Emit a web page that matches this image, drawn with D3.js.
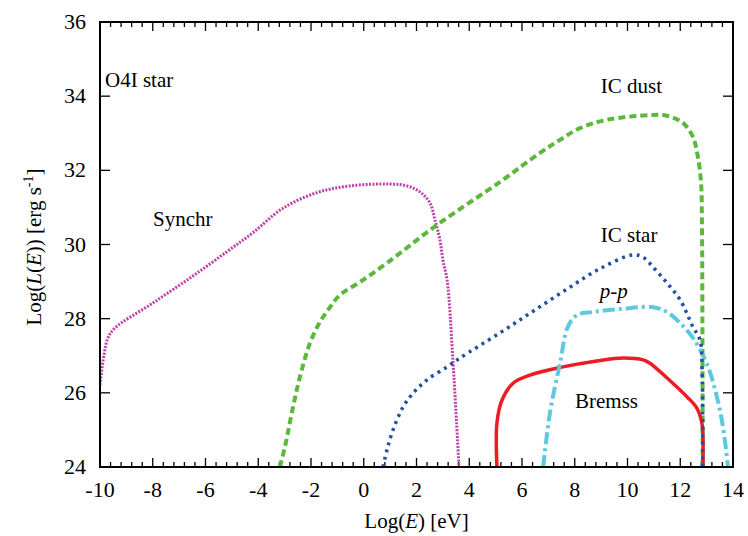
<!DOCTYPE html>
<html><head><meta charset="utf-8">
<script src="https://cdn.jsdelivr.net/npm/d3@7"></script>
<style>body{margin:0;background:#fff;} text{font-family:"Liberation Serif","Times New Roman",serif;}</style>
</head><body>
<svg id="c" width="748" height="536"></svg>
<script>
// Data: [log E (eV), log L (erg/s)]
const synchr = [[-10,26.21],[-9.85,27.02],[-9.7,27.48],[-9.43,27.75],[-8.0,28.42],[-6.5,29.14],[-5.2,29.8],[-4.2,30.32],[-3.06,30.98],[-1.77,31.4],[-0.52,31.58],[1.0,31.63],[1.64,31.58],[2.13,31.42],[2.51,31.12],[2.7,30.66],[2.89,30.12],[3.0,29.58],[3.16,29.04],[3.38,26.89],[3.61,24.0]];
const icDust = [[-3.18,24],[-2.99,24.54],[-2.68,25.62],[-2.42,26.43],[-2.04,27.34],[-1.66,27.91],[-1.28,28.31],[-0.9,28.64],[-0.14,28.99],[0.88,29.5],[2.78,30.53],[5.17,31.69],[6.68,32.47],[7.44,32.82],[8.2,33.14],[9.22,33.36],[10.85,33.49],[11.5,33.47],[12.1,33.28],[12.48,32.9],[12.67,32.36],[12.79,31.66],[12.82,30.74],[12.84,28],[12.85,24]];
const icStar = [[0.73,24],[0.88,24.46],[1.11,25.0],[1.49,25.62],[1.87,25.99],[2.4,26.35],[3.16,26.7],[3.65,26.94],[5.17,27.62],[6.42,28.2],[7.71,28.8],[8.96,29.35],[10.21,29.72],[10.59,29.66],[10.97,29.39],[11.5,28.96],[12.0,28.5],[12.48,27.78],[12.75,27.42],[12.83,26.6],[12.85,24]];
const pp = [[6.8,24],[7.06,25.46],[7.44,26.8],[7.74,27.78],[8.09,28.1],[8.69,28.18],[9.72,28.26],[10.97,28.31],[11.5,28.18],[12.0,27.88],[12.48,27.48],[13.0,26.8],[13.39,25.89],[13.62,25.08],[13.81,24.0]];
const bremss = [[5.05,24],[5.05,25.19],[5.24,25.8],[5.66,26.26],[6.3,26.48],[7.55,26.7],[8.84,26.86],[9.83,26.94],[10.59,26.89],[10.85,26.8],[11.5,26.4],[12.26,25.89],[12.63,25.59],[12.82,25.19],[12.86,24.81],[12.86,24]];
const xTicks = [-10,-8,-6,-4,-2,0,2,4,6,8,10,12,14];
const yTicks = [24,26,28,30,32,34,36];
const labels = [
  {t:"O4I star", x:-9.81, y:34.25},
  {t:"Synchr", x:-7.99, y:30.5},
  {t:"IC dust", x:8.99, y:34.09},
  {t:"IC star", x:8.99, y:30.07},
  {t:"p-p", x:8.95, y:28.56, it:true},
  {t:"Bremss", x:8.01, y:25.59}
];

const W=748,H=536, L=100,R=733,T=22,B=467;
const svg=d3.select("#c");
const x=d3.scaleLinear().domain([-10,14]).range([L,R]);
const y=d3.scaleLinear().domain([24,36]).range([B,T]);
const FONT='"Liberation Serif","Times New Roman",serif';

svg.append("clipPath").attr("id","clip").append("rect").attr("x",L).attr("y",T).attr("width",R-L).attr("height",B-T);

const g=svg.append("g");
const minor=d3.range(-10,14.001,0.4).map(v=>Math.round(v*10)/10);
minor.forEach(v=>{
  const major = xTicks.some(t=>Math.abs(t-v)<1e-6);
  const len = major?9:5;
  g.append("line").attr("x1",x(v)).attr("x2",x(v)).attr("y1",B).attr("y2",B-len).attr("stroke","#000").attr("stroke-width",1.3);
  g.append("line").attr("x1",x(v)).attr("x2",x(v)).attr("y1",T).attr("y2",T+len).attr("stroke","#000").attr("stroke-width",1.3);
});
yTicks.forEach(v=>{
  g.append("line").attr("x1",L).attr("x2",L+10).attr("y1",y(v)).attr("y2",y(v)).attr("stroke","#000").attr("stroke-width",1.3);
  g.append("line").attr("x1",R).attr("x2",R-10).attr("y1",y(v)).attr("y2",y(v)).attr("stroke","#000").attr("stroke-width",1.3);
});

const line=d3.line().x(d=>x(d[0])).y(d=>y(d[1])).curve(d3.curveCatmullRom.alpha(0.5));
const cg=svg.append("g").attr("clip-path","url(#clip)");
cg.append("path").attr("d",line(synchr)).attr("fill","none").attr("stroke","#c040a8").attr("stroke-width",3).attr("stroke-dasharray","2,1.4");
cg.append("path").attr("d",line(icDust)).attr("fill","none").attr("stroke","#5cb83c").attr("stroke-width",4).attr("stroke-dasharray","7,4");
cg.append("path").attr("d",line(bremss)).attr("fill","none").attr("stroke","#ec1c24").attr("stroke-width",3.5);
cg.append("path").attr("d",line(pp)).attr("fill","none").attr("stroke","#5ec8dc").attr("stroke-width",4).attr("stroke-dasharray","12,4,3,4");
cg.append("path").attr("d",line(icStar)).attr("fill","none").attr("stroke","#2050a8").attr("stroke-width",3.5).attr("stroke-dasharray","3,4.5");

svg.append("rect").attr("x",L).attr("y",T).attr("width",R-L).attr("height",B-T).attr("fill","none").attr("stroke","#000").attr("stroke-width",2);

xTicks.forEach(v=>{
  svg.append("text").attr("x",x(v)).attr("y",B+30).attr("text-anchor","middle").attr("font-family",FONT).attr("font-size",22).text(v);
});
yTicks.forEach(v=>{
  svg.append("text").attr("x",L-14).attr("y",y(v)+7).attr("text-anchor","end").attr("font-family",FONT).attr("font-size",22).text(v);
});

const xt=svg.append("text").attr("x",(L+R)/2).attr("y",528).attr("text-anchor","middle").attr("font-family",FONT).attr("font-size",21);
xt.append("tspan").text("Log(");
xt.append("tspan").attr("font-style","italic").text("E");
xt.append("tspan").text(") [eV]");

const yt=svg.append("text").attr("transform","translate(41,247) rotate(-90)").attr("text-anchor","middle").attr("font-family",FONT).attr("font-size",21);
yt.append("tspan").text("Log(");
yt.append("tspan").attr("font-style","italic").text("L");
yt.append("tspan").text("(");
yt.append("tspan").attr("font-style","italic").text("E");
yt.append("tspan").text(")) [erg s");
yt.append("tspan").attr("font-size",14).attr("dy",-8).text("-1");
yt.append("tspan").attr("dy",8).text("]");

labels.forEach(l=>{
  svg.append("text").attr("x",x(l.x)).attr("y",y(l.y)).attr("font-family",FONT).attr("font-size",21).attr("font-style",l.it?"italic":"normal").text(l.t);
});
</script>
</body></html>
